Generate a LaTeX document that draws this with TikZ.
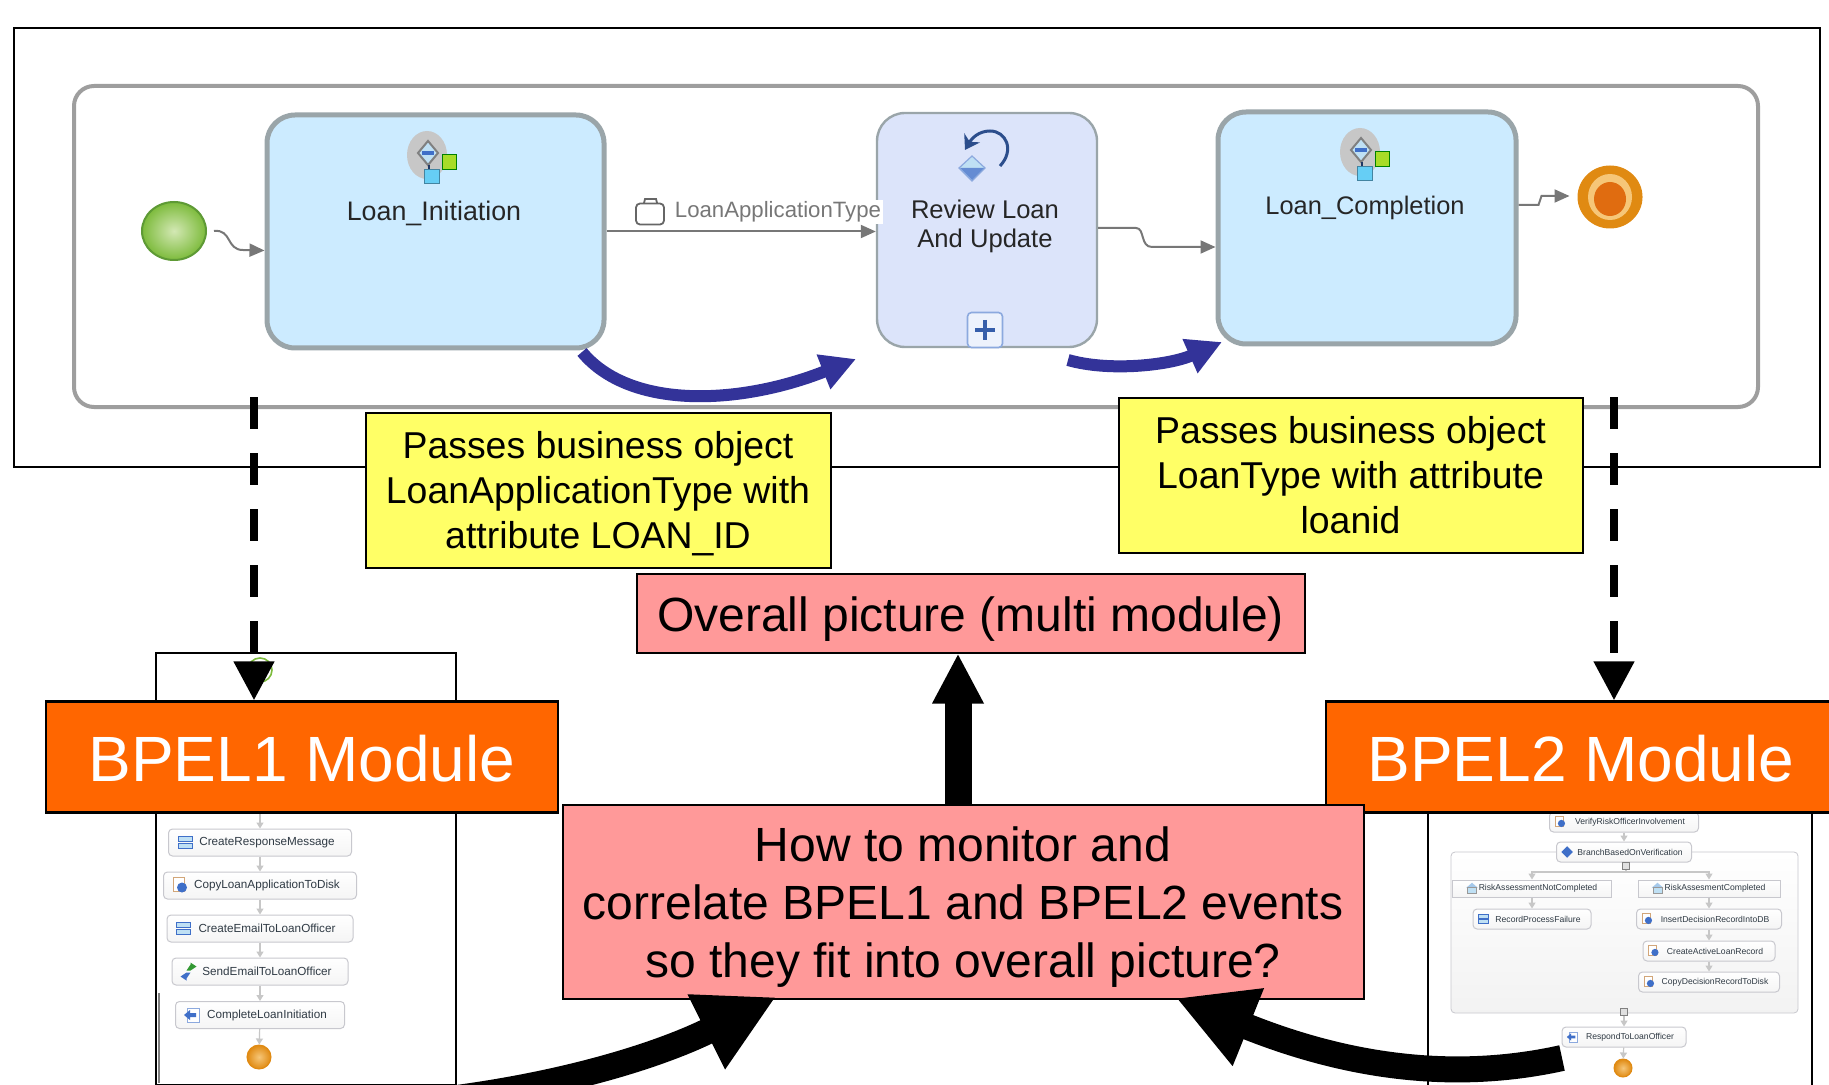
\documentclass[tikz,border=0pt]{standalone}
\usepackage{fontspec}
\setmainfont{Liberation Sans}
\usetikzlibrary{arrows.meta,shapes.geometric}

\definecolor{taskblue}{HTML}{CCEBFF}
\definecolor{taskgray}{HTML}{9AA5A9}
\definecolor{reviewblue}{HTML}{DCE4FA}
\definecolor{arrowblue}{HTML}{333399}
\definecolor{noteyellow}{HTML}{FFFF66}
\definecolor{notered}{HTML}{FF9999}
\definecolor{moduleorange}{HTML}{FF6600}
\definecolor{flowgray}{HTML}{777777}
\definecolor{listgray}{HTML}{C8C8CE}
\definecolor{listtext}{HTML}{2F3A44}
\definecolor{iconblue}{HTML}{3F6FC8}
\definecolor{iconpale}{HTML}{BFE0F4}
\definecolor{ballgreen}{HTML}{7DBB3C}
\definecolor{ballpale}{HTML}{D3E8B4}
\definecolor{ballrim}{HTML}{5E9A35}
\definecolor{finishrim}{HTML}{E08A12}
\definecolor{finishring}{HTML}{F6C678}
\definecolor{finishcore}{HTML}{E06C10}
\definecolor{limegreen}{HTML}{A8DC28}

\tikzset{
  taskbox/.style={draw=taskgray, line width=2.5pt, fill=taskblue, rounded corners=14pt},
  reviewbox/.style={draw=taskgray, line width=1.2pt, fill=reviewblue, rounded corners=14pt},
  tasklabel/.style={text=black!85, font=\fontsize{13.4}{14.7}\selectfont, align=center},
  flowline/.style={draw=flowgray, line width=1pt, -{Triangle[length=7.5pt,width=6.5pt]}},
  bluearrow/.style={draw=arrowblue, line width=6pt, -{Triangle[length=17.5pt,width=17.5pt]}},
  notebox/.style={draw=black, line width=1pt, fill=noteyellow, align=center,
    font=\fontsize{18.7}{22.5}\selectfont},
  redbox/.style={draw=black, line width=1pt, fill=notered, align=center,
    font=\fontsize{24}{29}\selectfont},
  modulebox/.style={draw=black, line width=1.2pt, fill=moduleorange, text=white,
    font=\fontsize{32}{38}\selectfont},
  framebox/.style={draw=black, line width=1.2pt, fill=white},
  dashlink/.style={draw=black, line width=4pt, dash pattern=on 16pt off 12pt,
    -{Triangle[length=19.5pt,width=19.5pt]}},
  bigarrow/.style={draw=black, line width=13pt, -{Triangle[length=39pt,width=39pt]}},
  uparrow/.style={draw=black, line width=13.5pt, -{Triangle[length=25pt,width=24pt]}},
  listbox/.style={draw=listgray, line width=.5pt, rounded corners=2pt, top color=white,
    bottom color=black!4, text=listtext, inner sep=0pt, minimum height=13.5pt,
    font=\fontsize{5.85}{7}\selectfont},
  smallbox/.style={listbox, minimum height=10pt, font=\fontsize{4.3}{5}\selectfont},
  smallflow/.style={draw=black!22, line width=.6pt, -{Triangle[length=3pt,width=3.5pt]}},
  ballend/.style={ellipse, draw=finishrim, line width=.5pt, inner sep=0pt,
    inner color=finishring, outer color=finishrim},
  minusbox/.style={draw=black!50, fill=black!12, inner sep=0pt, minimum size=3.2pt},
  pics/assignicon/.style={code={
    \draw [draw=iconblue, fill=iconpale, line width=.4pt] (-7,-6) rectangle (7,-.8);
    \draw [draw=iconblue, fill=iconpale, line width=.4pt] (-7,.8) rectangle (7,6);
  }},
  pics/scripticon/.style={code={
    \draw [draw=brown!70, fill=white, line width=.4pt] (-7,-8) rectangle (4,6);
    \fill [iconblue] (2,2) circle (5);
  }},
  pics/sendicon/.style={code={
    \fill [green!50!black!80] (-2,-1) -- (2,-7) -- (2,-9) -- (8,-5) -- (2,-1) -- cycle;
    \fill [iconblue] (2,1) -- (-2,7) -- (-2,9) -- (-8,5) -- (-2,1) -- cycle;
  }},
  pics/replyicon/.style={code={
    \draw [draw=iconblue!60, fill=white, line width=.4pt] (-5,-7) rectangle (7,7);
    \fill [iconblue] (-8,0) -- (-2,-5) -- (-2,-2) -- (4,-2) -- (4,2) -- (-2,2) -- (-2,5) -- cycle;
  }},
  pics/decideicon/.style={code={
    \fill [iconblue] (0,-8) -- (8,0) -- (0,8) -- (-8,0) -- cycle;
  }},
  pics/caseicon/.style={code={
    \fill [iconpale!80!iconblue] (0,-8) -- (8,-1) -- (-8,-1) -- cycle;
    \draw [draw=black!40, fill=iconpale, line width=.3pt] (-6,-1) rectangle (6,6);
  }},
  pics/taskicon/.style={code={
    \fill [black!22] (-4,-3) ellipse [x radius=20, y radius=24];
    \draw [black!50, line width=1pt, fill=iconpale] (-3,-17) -- (7,-5) -- (-3,7) -- (-13,-5) -- cycle;
    \fill [iconblue] (-9,-7) rectangle (3,-3);
    \draw [iconblue!50!black, line width=.6pt] (-2,7) -- (-2,12);
    \draw [draw=cyan!60!black, fill=cyan!60, line width=.5pt] (-7,12) rectangle (8,26);
    \draw [draw=green!50!black, fill=limegreen, line width=.5pt] (11,-3) rectangle (25,12);
  }},
}

\begin{document}
\begin{tikzpicture}[x=.5pt, y=-.5pt]
  \useasboundingbox (0,0) rectangle (1829,1085);
  \clip (0,0) rectangle (1829,1085);

  \node (canvas) [draw=black, line width=1pt, minimum width=903pt, minimum height=219pt]
    at (916.5,247.5) {};
  \node (pool) [draw=black!38, line width=2pt, rounded corners=10pt,
    minimum width=842pt, minimum height=160.5pt] at (916,246.5) {};

  \node (start) [ellipse, draw=ballrim, line width=1pt, inner sep=0pt,
    minimum width=32pt, minimum height=29pt, inner color=ballpale,
    outer color=ballgreen] at (174,231) {};
  \node (loaninit) [taskbox, minimum width=168.5pt, minimum height=116.5pt] at (435.5,231.5) {};
  \node (review) [reviewbox, minimum width=110pt, minimum height=117pt] at (987,230) {};
  \node (loandone) [taskbox, minimum width=149pt, minimum height=116pt] at (1367,228) {};
  \node (finish) [ellipse, fill=finishrim, draw=finishrim, line width=.5pt,
    inner sep=0pt, minimum width=32pt, minimum height=31pt] at (1610,197) {};
  \fill [finishring] (1610,197) ellipse [x radius=22, y radius=23];
  \fill [finishcore] (1610,199) ellipse [x radius=16, y radius=17];

  \node (initlabel) [tasklabel] at (434,213) {Loan\_Initiation};
  \node (reviewlabel) [tasklabel, font=\fontsize{12.8}{14.7}\selectfont] at (985,226.5)
    {Review Loan\\And Update};
  \node (donelabel) [tasklabel, font=\fontsize{12.7}{14.7}\selectfont] at (1365,208)
    {Loan\_Completion};
  \pic at (431,158) {taskicon};
  \pic at (1364,155) {taskicon};

  \draw [draw=iconblue!70!black, line width=1.5pt, -{Stealth[length=7pt,width=9pt]}]
    (1000,166) .. controls (1015,150) and (1006,131) .. (990,131)
    .. controls (979,131) and (972,138) .. (965,150);
  \draw [draw=iconblue!60, fill=iconpale, line width=.6pt] (972,156) -- (985,168) -- (972,181) -- (959,168) -- cycle;
  \fill [iconblue!80] (960,168) -- (984,168) -- (972,180) -- cycle;
  \node (expand) [draw=iconblue!60, fill=reviewblue!50!white, line width=.8pt, rounded corners=2pt,
    minimum size=17.5pt, inner sep=0pt] at (985,330) {};
  \draw [draw=iconblue!85!black, line width=1.8pt] (975,330) -- (995,330) (985,320) -- (985,340);

  \node (bagtype) [text=flowgray, fill=white, inner sep=1pt, font=\fontsize{11.1}{13}\selectfont]
    at (778,212) {LoanApplicationType};
  \node (bag) [draw=black!60, fill=white, line width=.9pt, rounded corners=2pt,
    minimum width=14pt, minimum height=10.5pt, inner sep=0pt] at (650,214) {};
  \draw [draw=black!60, line width=.9pt] (644,203) -- (645,199) -- (656,199) -- (657,203);

  \draw [flowline] ([xshift=3.5pt]start.east) .. controls (232,229) and (226,250) .. (243,250)
    -- ([yshift=-9.5pt]loaninit.west);
  \draw [flowline] (loaninit.east) -- (loaninit.east -| review.west);
  \draw [flowline] ([yshift=1pt]review.east) -- (1136,228) .. controls (1145,228) and (1140,247) .. (1152,247)
    -- ([yshift=-9.5pt]loandone.west);
  \draw [flowline, shorten >=4pt] ([yshift=11.5pt]loandone.east) -- ++(20,0) -- ++(3,-9) -- (finish.west |- 0,196);

  \coordinate (blueonea) at (582,352);
  \coordinate (blueoneb) at (856,359);
  \coordinate (bluetwoa) at (1068,360);
  \coordinate (bluetwob) at (1222,342);
  \draw [bluearrow] (blueonea) .. controls (630,410) and (740,405) .. (blueoneb);
  \draw [bluearrow] (bluetwoa) .. controls (1110,372) and (1170,365) .. (bluetwob);

  \node (frameone) [framebox, minimum width=150pt, minimum height=216pt] at (306,869) {};
  \draw [draw=black!50, line width=.6pt] (159,993) -- (159,1083);
  \node (frametwo) [framebox, minimum width=192pt, minimum height=195pt] at (1620,1000) {};

  \node (startone) [circle, draw=ballgreen, fill=white, line width=.8pt,
    minimum size=12pt, inner sep=0pt] at (260,670) {};
  \foreach \name/\cy/\boxw/\icon/\txt in {
    createresp/842.5/91.5/assignicon/CreateResponseMessage,
    copyapp/885.5/96.5/scripticon/CopyLoanApplicationToDisk,
    createmail/928.5/93/assignicon/CreateEmailToLoanOfficer,
    sendmail/971.5/88/sendicon/SendEmailToLoanOfficer,
    complete/1015/84.5/replyicon/CompleteLoanInitiation} {
    \node (\name) [listbox, minimum width=\boxw pt] at (260,\cy) {\hspace{7pt}\txt};
    \pic at ([xshift=8.5pt]\name.west) {\icon};
  }
  \node (endone) [ballend, minimum size=12pt] at (259,1057) {};
  \coordinate (entryone) at (260,813);
  \draw [smallflow] (entryone) -- (createresp);
  \foreach \source/\target in {createresp/copyapp, copyapp/createmail, createmail/sendmail,
    sendmail/complete, complete/endone} {
    \draw [smallflow] (\source) -- (\target);
  }

  \node (branchpane) [draw=listgray, line width=.4pt, rounded corners=2pt, top color=white,
    bottom color=black!5, minimum width=173.5pt, minimum height=80.5pt] at (1624.5,932.5) {};
  \begin{scope}[every pic/.style={scale=.72}]
    \foreach \name/\cx/\cy/\boxw/\icon/\txt in {
      verify/1624/822/74.5/scripticon/VerifyRiskOfficerInvolvement,
      branch/1624/852/67.5/decideicon/BranchBasedOnVerification,
      recordfail/1532/919/59/assignicon/RecordProcessFailure,
      insertrec/1709/919/72.5/scripticon/InsertDecisionRecordIntoDB,
      createrec/1709/951/66/scripticon/CreateActiveLoanRecord,
      copyrec/1709/982/70.5/scripticon/CopyDecisionRecordToDisk,
      respond/1624/1037/62/replyicon/RespondToLoanOfficer} {
      \node (\name) [smallbox, minimum width=\boxw pt] at (\cx,\cy) {\hspace{6pt}\txt};
      \pic at ([xshift=5.5pt]\name.west) {\icon};
    }
    \foreach \name/\cx/\boxw/\txt/\gap in {
      risknot/1532/79.5/RiskAssessmentNotCompleted/10,
      riskdone/1709/71/RiskAssesmentCompleted/10} {
      \node (\name) [smallbox, rounded corners=0pt, minimum width=\boxw pt, minimum height=8.5pt]
        at (\cx,888.5) {\hspace{6pt}\txt};
      \pic at ([xshift=\gap pt]\name.west) {caseicon};
    }
  \end{scope}
  \node (minustop) [minusbox] at (1626,866) {};
  \node (minuslow) [minusbox] at (1624,1012) {};
  \node (endtwo) [ballend, minimum size=9pt] at (1623,1068) {};
  \coordinate (fork) at (1626,872);
  \draw [draw=black!22, line width=.6pt] (minustop) -- (fork);
  \draw [smallflow] (fork) -| (risknot);
  \draw [smallflow] (fork) -| (riskdone);
  \foreach \source/\target in {verify/branch, risknot/recordfail, riskdone/insertrec, insertrec/createrec,
    createrec/copyrec, minuslow/respond, respond/endtwo} {
    \draw [smallflow] (\source) -- (\target);
  }

  \node (bpelone) [modulebox, minimum width=256pt, minimum height=55.5pt] at (302,757)
    {\rule{0pt}{25.3pt}BPEL1 Module};
  \node (bpeltwo) [modulebox, minimum width=255pt, minimum height=55.5pt] at (1581,757)
    {\rule{0pt}{25.3pt}BPEL2 Module};

  \coordinate (dashone) at (254,397);
  \coordinate (dashtwo) at (1614,397);
  \draw [dashlink] (dashone) -- (dashone |- bpelone.north);
  \draw [dashlink] (dashtwo) -- (dashtwo |- bpeltwo.north);

  \node (noteone) [notebox, minimum width=232.5pt, minimum height=77.5pt] at (598,490.5)
    {Passes business object\\LoanApplicationType with\\attribute LOAN\smash{\_}ID};
  \node (notetwo) [notebox, minimum width=232pt, minimum height=77.5pt] at (1350.5,475)
    {Passes business object\\LoanType with attribute\\loanid};

  \node (overall) [redbox, minimum width=334pt, minimum height=39.5pt] at (970.5,613)
    {\rule{0pt}{23.3pt}Overall picture (multi module)};
  \node (question) [redbox, minimum width=400.5pt, minimum height=97pt] at (963,902)
    {\rule{0pt}{22.7pt}How to monitor and\\correlate BPEL1 and BPEL2 events\\so they fit into overall picture?};

  \coordinate (upfoot) at (958,806);
  \draw [uparrow] (upfoot) -- (upfoot |- overall.south);

  \coordinate (leftfoot) at (415,1103);
  \coordinate (lefttip) at (776,997);
  \coordinate (rightfoot) at (1562,1058);
  \coordinate (righttip) at (1176,998);
  \draw [bigarrow] (leftfoot) .. controls (570,1087) and (670,1050) .. (lefttip);
  \draw [bigarrow] (rightfoot) .. controls (1440,1085) and (1330,1060) .. (righttip);
\end{tikzpicture}
\end{document}
